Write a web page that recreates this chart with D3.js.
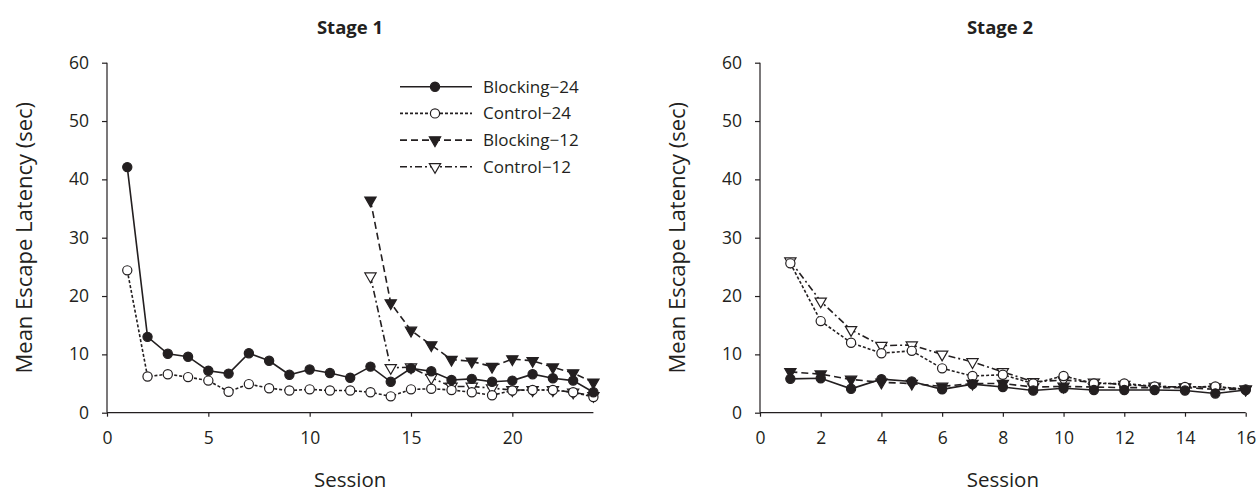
<!DOCTYPE html>
<html>
<head>
<meta charset="utf-8">
<script src="https://cdn.jsdelivr.net/npm/d3@7"></script>
<style>
  body { margin: 0; background: #fff; }
  text { font-family: "Open Sans", sans-serif; fill: #231f20; }
</style>
</head>
<body>
<script>
const width = 1260;
const height = 493;

// stage 1: sessions 1-24 (12-session groups start at session 13)
const stage1Sessions = [1,2,3,4,5,6,7,8,9,10,11,12,13,14,15,16,17,18,19,20,21,22,23,24];
const s1Blocking24 = [42.1,13.0,10.1,9.6,7.2,6.7,10.2,8.9,6.5,7.4,6.8,6.0,7.9,5.3,7.6,7.1,5.6,5.8,5.3,5.5,6.6,5.9,5.5,3.5];
const s1Control24  = [24.4,6.2,6.6,6.1,5.5,3.6,4.9,4.2,3.8,4.0,3.8,3.8,3.5,2.8,4.0,4.1,3.9,3.5,3.0,3.8,3.9,3.9,3.5,2.7];
const s1Blocking12 = [null,null,null,null,null,null,null,null,null,null,null,null,36.4,18.8,14.1,11.6,9.1,8.8,7.9,9.2,8.9,7.8,6.8,5.2];
const s1Control12  = [null,null,null,null,null,null,null,null,null,null,null,null,23.4,7.7,7.8,6.0,4.5,4.5,4.2,3.9,3.9,3.9,3.5,2.9];

// stage 2: sessions 1-16
const stage2Sessions = [1,2,3,4,5,6,7,8,9,10,11,12,13,14,15,16];
const s2Blocking24 = [5.8,5.9,4.1,5.75,5.35,4.0,4.9,4.4,3.8,4.2,3.9,3.9,3.9,3.8,3.3,3.9];
const s2Control24  = [25.6,15.7,12.0,10.2,10.6,7.6,6.3,6.5,5.0,6.3,5.0,5.0,4.5,4.4,4.5,4.0];
const s2Blocking12 = [7.0,6.6,5.7,5.2,5.0,4.5,5.0,5.0,4.4,4.5,4.4,4.3,4.3,4.3,4.0,4.0];
const s2Control12  = [26.0,19.1,14.2,11.5,11.6,10.0,8.7,7.0,5.3,5.6,5.2,4.8,4.5,4.4,4.4,4.0];

const seriesNames = ["Blocking\u221224", "Control\u221224", "Blocking\u221212", "Control\u221212"];
const yTicks = [0,10,20,30,40,50,60];

// line style + marker for each series
const styles = [
  {dash: null,        marker: "circle",   fill: "#231f20"},
  {dash: "3,2",       marker: "circle",   fill: "#fff"},
  {dash: "7,4",       marker: "triangle", fill: "#231f20"},
  {dash: "7,3,2,3",   marker: "triangle", fill: "#fff"}
];

const svg = d3.select("body")
  .append("svg")
  .attr("width", width)
  .attr("height", height);

function drawPanel(opts) {
  const x = d3.scaleLinear().domain([0, opts.xMax]).range([opts.left, opts.right]);
  const y = d3.scaleLinear().domain([0, 60]).range([412.7, 62.7]);
  const g = svg.append("g");

  // axes
  const xAxis = d3.axisBottom(x).tickValues(opts.xTicks).tickSize(4).tickPadding(15);
  const yAxis = d3.axisLeft(y).tickValues(yTicks).tickSize(5).tickPadding(13);

  const gx = g.append("g").attr("transform", `translate(0,${y(0)})`).call(xAxis);
  const gy = g.append("g").attr("transform", `translate(${x(0)},0)`).call(yAxis);
  [gx, gy].forEach(a => {
    a.select(".domain").attr("stroke", "#231f20").attr("stroke-width", 1.2);
    a.selectAll(".tick line").attr("stroke", "#231f20").attr("stroke-width", 1.2);
    a.selectAll(".tick text").style("font-size", "17.5px").attr("fill", "#231f20");
  });
  gx.select(".domain").attr("d", `M${x(0)},0H${x(opts.xMax)}`);
  gy.select(".domain").attr("d", `M0,${y(0)}V${y(60)}`);

  // titles and labels
  g.append("text")
    .attr("x", opts.titleX).attr("y", 34)
    .attr("text-anchor", "middle")
    .style("font-size", "18.5px").style("font-weight", "bold")
    .text(opts.title);
  g.append("text")
    .attr("x", (opts.left + opts.right) / 2).attr("y", 487)
    .attr("text-anchor", "middle")
    .style("font-size", "20.5px")
    .text("Session");
  g.append("text")
    .attr("transform", `translate(${opts.left - 75},${y(30)}) rotate(-90)`)
    .attr("text-anchor", "middle")
    .style("font-size", "22px")
    .text("Mean Escape Latency (sec)");

  // series, drawn from the last to the first so the solid line sits on top
  for (let k = opts.series.length - 1; k >= 0; k--) {
    const vals = opts.series[k];
    const st = styles[k];
    const pts = opts.sessions.map((s, i) => ({s: s, v: vals[i]}));
    const line = d3.line()
      .defined(d => d.v != null)
      .x(d => x(d.s))
      .y(d => y(d.v));
    g.append("path")
      .datum(pts)
      .attr("d", line)
      .attr("fill", "none")
      .attr("stroke", "#231f20")
      .attr("stroke-width", 1.6)
      .attr("stroke-dasharray", st.dash);
    drawMarkers(g, pts.filter(d => d.v != null), x, y, st);
  }
}

function drawMarkers(g, pts, x, y, st) {
  if (st.marker === "circle") {
    g.selectAll(null).data(pts).enter().append("circle")
      .attr("cx", d => x(d.s)).attr("cy", d => y(d.v))
      .attr("r", 4.6)
      .attr("fill", st.fill).attr("stroke", "#231f20").attr("stroke-width", 1.2);
  } else {
    const tri = d3.symbol().type(d3.symbolTriangle).size(55);
    g.selectAll(null).data(pts).enter().append("path")
      .attr("d", tri)
      .attr("transform", d => `translate(${x(d.s)},${y(d.v)}) rotate(180)`)
      .attr("fill", st.fill).attr("stroke", "#231f20").attr("stroke-width", 1.2);
  }
}

drawPanel({
  left: 107, right: 593.4, xMax: 24, xTicks: [0,5,10,15,20],
  title: "Stage 1", titleX: 350,
  sessions: stage1Sessions,
  series: [s1Blocking24, s1Control24, s1Blocking12, s1Control12]
});

drawPanel({
  left: 760, right: 1245.7, xMax: 16, xTicks: [0,2,4,6,8,10,12,14,16],
  title: "Stage 2", titleX: 1000,
  sessions: stage2Sessions,
  series: [s2Blocking24, s2Control24, s2Blocking12, s2Control12]
});

// legend (stage 1 panel)
const legend = svg.append("g");
seriesNames.forEach((name, k) => {
  const ly = 86.7 + k * 26.7;
  const st = styles[k];
  legend.append("line")
    .attr("x1", 400).attr("x2", 472).attr("y1", ly).attr("y2", ly)
    .attr("stroke", "#231f20").attr("stroke-width", 1.6)
    .attr("stroke-dasharray", st.dash);
  const same = d => d;
  drawMarkers(legend, [{s: 435, v: ly}], same, same, st);
  legend.append("text")
    .attr("x", 483).attr("y", ly)
    .attr("dy", "0.35em")
    .style("font-size", "17px")
    .text(name);
});
</script>
</body>
</html>
